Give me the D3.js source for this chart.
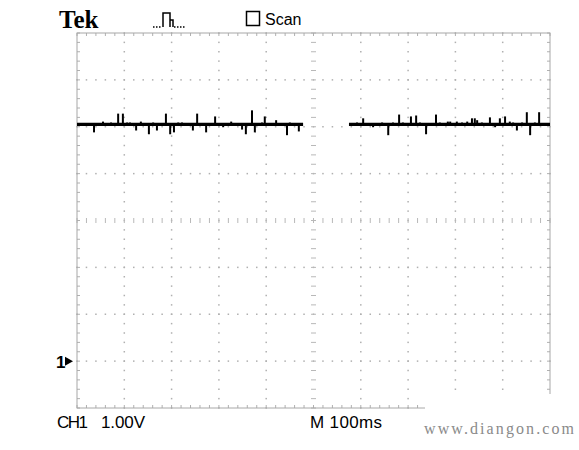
<!DOCTYPE html>
<meta charset="utf-8">
<style>
  body { margin: 0; background: #fff; }
  svg { display: block; }
</style>
<svg width="579" height="450"></svg>
<script src="https://cdn.jsdelivr.net/npm/d3@7"></script>
<script>

  // sweep: 10 div x 100ms, 8 div x 1.00V, ground marker at 0V
  var segments = [[0, 478], [575, 1000]];
  var level = 5.05;
  var spikeTimes = [36, 55, 72, 87, 97, 106, 112, 125, 135, 152, 161, 169, 188, 197, 205, 214, 222, 245, 254, 273, 292, 309, 326, 349, 357, 370, 376, 391, 397, 421, 444, 450, 469,
                    592, 605, 626, 645, 658, 668, 681, 689, 706, 717, 725, 738, 759, 767, 784, 789, 803, 814, 825, 835, 841, 846, 856, 873, 884, 894, 905, 915, 922, 930, 941, 951, 958, 968, 977];
  var spikeVolts = [4.88, 5.11, 5.09, 5.28, 5.28, 5.09, 5.09, 4.92, 5.11, 4.84, 5.09, 4.92, 5.28, 4.84, 4.88, 5.09, 5.09, 4.92, 5.28, 4.88, 5.22, 4.99, 5.11, 4.94, 4.84, 5.35, 4.88, 5.09, 5.22, 5.14, 4.82, 5.09, 4.90,
                    5.09, 5.18, 4.99, 5.09, 4.82, 5.09, 5.26, 5.09, 5.22, 5.24, 5.09, 4.84, 5.26, 5.09, 5.11, 5.11, 5.11, 5.09, 5.11, 5.18, 5.18, 5.14, 5.09, 5.20, 4.99, 5.18, 5.22, 5.11, 5.09, 4.92, 5.09, 5.31, 4.82, 5.09, 5.31];
  var timeDivs = d3.range(0, 1001, 100);
  var voltDivs = d3.range(-1, 8, 1);

  var svg = d3.select("svg");
  var x = d3.scaleLinear().domain([0, 1000]).range([77, 550]);
  var y = d3.scaleLinear().domain([-1, 7]).range([408, 33]);

  var grid = svg.append("g");
  var minorT = d3.range(0, 1001, 20), minorV = d3.range(-1, 7.01, 0.2);

  // dotted graticule
  timeDivs.slice(1, -1).filter(function(t) { return t != 500; }).forEach(function(t) {
    grid.selectAll(null).data(minorV).enter().append("rect")
      .attr("x", x(t) - 0.75).attr("y", function(v) { return y(v) - 0.75; })
      .attr("width", 1.5).attr("height", 1.5).attr("fill", "#b0b0b0");
  });
  voltDivs.slice(1, -1).filter(function(v) { return v != 3; }).forEach(function(v) {
    grid.selectAll(null).data(minorT).enter().append("rect")
      .attr("x", function(t) { return x(t) - 0.75; }).attr("y", y(v) - 0.75)
      .attr("width", 1.5).attr("height", 1.5).attr("fill", "#b0b0b0");
  });

  // centre cross with minor ticks
  grid.selectAll(null).data(minorV).enter().append("line")
    .attr("x1", x(500) - 2.5).attr("x2", x(500) + 2.5)
    .attr("y1", function(v) { return y(v); }).attr("y2", function(v) { return y(v); })
    .attr("stroke", "#b8b8b8");
  grid.selectAll(null).data(minorT).enter().append("line")
    .attr("y1", y(3) - 2.5).attr("y2", y(3) + 2.5)
    .attr("x1", function(t) { return x(t); }).attr("x2", function(t) { return x(t); })
    .attr("stroke", "#b8b8b8");

  // frame ticks
  grid.selectAll(null).data(minorT).enter().append("line")
    .attr("x1", function(t) { return x(t); }).attr("x2", function(t) { return x(t); })
    .attr("y1", y(7)).attr("y2", y(7) + 3).attr("stroke", "#b0b0b0");
  grid.selectAll(null).data(minorT).enter().append("line")
    .attr("x1", function(t) { return x(t); }).attr("x2", function(t) { return x(t); })
    .attr("y1", y(-1)).attr("y2", y(-1) - 3).attr("stroke", "#b0b0b0");
  grid.selectAll(null).data(minorV).enter().append("line")
    .attr("y1", function(v) { return y(v); }).attr("y2", function(v) { return y(v); })
    .attr("x1", x(0)).attr("x2", x(0) + 3).attr("stroke", "#b0b0b0");
  grid.selectAll(null).data(minorV).enter().append("line")
    .attr("y1", function(v) { return y(v); }).attr("y2", function(v) { return y(v); })
    .attr("x1", x(1000)).attr("x2", x(1000) - 3).attr("stroke", "#b0b0b0");

  grid.append("rect")
    .attr("x", x(0)).attr("y", y(7))
    .attr("width", x(1000) - x(0)).attr("height", y(-1) - y(7))
    .attr("fill", "none").attr("stroke", "#a8a8a8");

  // watermark strip wipes the bottom right corner
  svg.append("rect").attr("x", 425).attr("y", 394).attr("width", 154).attr("height", 56).attr("fill", "#fff");

  // trace
  var trace = svg.append("g").attr("stroke", "#000");
  trace.selectAll(null).data(segments).enter().append("line")
    .attr("x1", function(d) { return x(d[0]); }).attr("x2", function(d) { return x(d[1]); })
    .attr("y1", y(level)).attr("y2", y(level))
    .attr("stroke-width", 3.2);
  trace.selectAll(null).data(spikeTimes).enter().append("line")
    .attr("x1", function(t) { return x(t); }).attr("x2", function(t) { return x(t); })
    .attr("y1", y(level))
    .attr("y2", function(t, i) { return y(spikeVolts[i]); })
    .attr("stroke-width", 2);

  // ground marker
  svg.append("text").attr("x", 56).attr("y", y(0) + 6.5)
    .style("font", "bold 17px 'Liberation Sans', Arial").text("1");
  svg.append("path")
    .attr("d", "M65," + (y(0) - 4.5) + "L73," + y(0) + "L65," + (y(0) + 4.5) + "Z")
    .attr("fill", "#000");

  // header
  svg.append("text").attr("x", 59).attr("y", 28)
    .style("font", "bold 25px 'Liberation Serif', 'DejaVu Serif', serif").text("Tek");
  svg.append("path")
    .attr("d", "M163,27V13H170V27M170,20H173V27")
    .attr("fill", "none").attr("stroke", "#000").attr("stroke-width", 1.5);
  svg.append("path")
    .attr("d", "M153,27H162M174,27H186")
    .attr("fill", "none").attr("stroke", "#000").attr("stroke-width", 1.5)
    .attr("stroke-dasharray", "1.5,1.5");
  svg.append("rect").attr("x", 246.5).attr("y", 11.5).attr("width", 13).attr("height", 14)
    .attr("fill", "none").attr("stroke", "#000").attr("stroke-width", 1.5);
  svg.append("text").attr("x", 265).attr("y", 25)
    .style("font", "16px 'Liberation Sans', Arial").text("Scan");

  // footer
  var foot = "17px 'Liberation Sans', Arial";
  svg.append("text").attr("x", 57).attr("y", 428).style("font", foot).attr("textLength", 31).text("CH1");
  svg.append("text").attr("x", 101).attr("y", 428).style("font", foot).attr("textLength", 44).text("1.00V");
  svg.append("text").attr("x", 310).attr("y", 428).style("font", foot).attr("textLength", 72).text("M 100ms");
  svg.append("text").attr("x", 424).attr("y", 434).attr("fill", "#8a8a8a")
    .style("font", "16px 'Liberation Serif', serif").attr("textLength", 150).text("www.diangon.com");

</script>
